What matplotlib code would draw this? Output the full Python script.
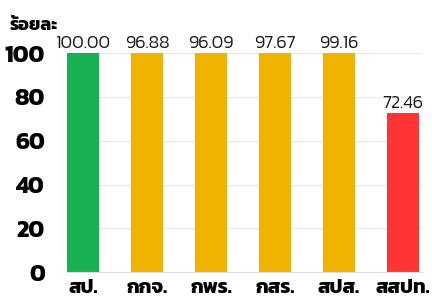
"""Bar chart: percentage by department (Thai labels)."""

import matplotlib
matplotlib.use("Agg")
import matplotlib.pyplot as plt

THAI_FONT = "Kanit"

#: Department abbreviations on the x axis.
departments = ["สป.", "กกจ.", "กพร.", "กสร.", "สปส.", "สสปท."]
#: Percentages printed above the bars.
percent_labels = [100.00, 96.88, 96.09, 97.67, 99.16, 72.46]
#: Bar heights as drawn in the source (the 96-99 bars are drawn full height).
bar_heights = [100, 100, 100, 100, 100, 72.46]
bar_colors = ["#17b152", "#f0b300", "#f0b300", "#f0b300", "#f0b300", "#ff3535"]
y_ticks = [0, 20, 40, 60, 80, 100]

fig = plt.figure(figsize=(4.32, 3.02), dpi=100)
ax = fig.add_axes([0.155, 0.099, 0.822, 0.725])

positions = range(len(departments))
ax.bar(positions, bar_heights, width=0.5, color=bar_colors, zorder=2)

for x, height, value in zip(positions, bar_heights, percent_labels):
    ax.annotate(f"{value:.2f}", (x, height), xytext=(0, 1),
                textcoords="offset points", ha="center", va="bottom",
                fontsize=13, fontfamily=THAI_FONT, fontweight=300,
                color="#1a1a1a", annotation_clip=False)

ax.set_xlim(-0.25, 5.3)
ax.set_ylim(0, 100)
ax.set_yticks(y_ticks)
ax.set_yticklabels([str(t) for t in y_ticks], fontsize=17,
                   fontfamily=THAI_FONT, fontweight="bold")
ax.set_xticks(list(positions))
ax.set_xticklabels(departments, fontsize=14.5, fontfamily=THAI_FONT,
                   fontweight="bold")
ax.tick_params(axis="y", length=0, pad=16)
ax.tick_params(axis="x", length=0, pad=5)
ax.grid(axis="y", color="#e8e8e8", linewidth=0.8, zorder=0)
ax.set_axisbelow(True)
for side in ("top", "right", "left"):
    ax.spines[side].set_visible(False)
ax.spines["bottom"].set_color("#dddddd")
ax.spines["bottom"].set_linewidth(0.8)

fig.text(0.023, 0.915, "ร้อยละ", fontsize=13, fontfamily=THAI_FONT,
         fontweight="bold", ha="left", va="center")

fig.savefig("out.png", dpi=100)
